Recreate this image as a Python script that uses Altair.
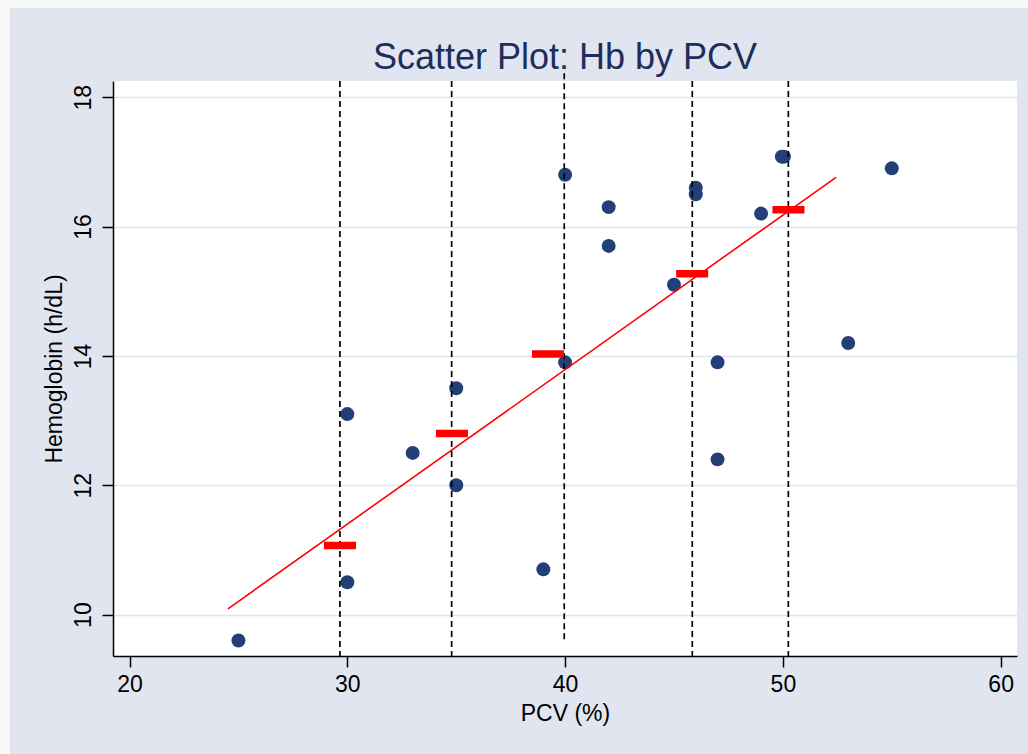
import altair as alt
import pandas as pd

# Scatter data: PCV (%) and hemoglobin
pcv = [25, 30, 30, 33, 35, 35, 39, 40, 40, 42, 42, 45, 46, 46, 47, 47, 49, 49.95, 50.05, 53, 55]
hb = [9.6, 10.5, 13.1, 12.5, 13.5, 12.0, 10.7, 13.9, 16.8, 16.3, 15.7, 15.1, 16.6, 16.5, 13.9, 12.4,
      16.2, 17.08, 17.08, 14.2, 16.9]

# Linear fit line end points
fit_pcv = [24.52, 52.44]
fit_hb = [10.09, 16.76]

# Bin means (red bars)
bar_lo = [28.93, 34.07, 38.48, 45.10, 49.52]
bar_hi = [30.40, 35.54, 39.95, 46.57, 50.99]
bar_mean = [11.07, 12.80, 14.03, 15.27, 16.26]

# Dashed cut lines
cut_pcv = [29.66, 34.79, 39.96, 45.84, 50.25]
cut_top = [18.25, 18.25, 18.37, 18.25, 18.25]
cut_bottom = [9.36, 9.36, 9.57, 9.36, 9.36]

x_ticks = [20, 30, 40, 50, 60]
y_ticks = [10, 12, 14, 16, 18]
title_text = ["Scatter Plot: Hb by PCV"]

FONT = "Liberation Sans"
xs = alt.Scale(domain=[19.24, 60.75], nice=False, zero=False)
ys = alt.Scale(domain=[9.36, 18.25], nice=False, zero=False)

pts_df = pd.DataFrame({"pcv": pcv, "hb": hb})
fit_df = pd.DataFrame({"pcv": fit_pcv, "hb": fit_hb})
bar_df = pd.DataFrame({"lo": bar_lo, "hi": bar_hi, "m": bar_mean})
cut_df = pd.DataFrame({"x": cut_pcv, "top": cut_top, "bot": cut_bottom})
title_df = pd.DataFrame({"t": title_text})
one = pd.DataFrame({"a": [0]})

PW, PH = 904, 575
PL, PT, PR, PB = 113, 81, 11, 98

strip_left = alt.Chart(one).mark_rect(color="#f7f7f8").encode(
    x=alt.value(-PL), x2=alt.value(-PL + 10), y=alt.value(-PT), y2=alt.value(PH + PB))
strip_top = alt.Chart(one).mark_rect(color="#f7f7f8").encode(
    x=alt.value(-PL), x2=alt.value(PW + PR), y=alt.value(-PT), y2=alt.value(-PT + 8))

title = alt.Chart(title_df).mark_text(
    font=FONT, fontSize=36, color="#1f2d5c", align="center", baseline="alphabetic"
).encode(text="t:N", x=alt.value(PW / 2), y=alt.value(-12))

points = alt.Chart(pts_df).mark_circle(size=195, color="#233f78", opacity=1).encode(
    x=alt.X("pcv:Q", scale=xs,
            axis=alt.Axis(values=x_ticks, title="PCV (%)", grid=False, format="d")),
    y=alt.Y("hb:Q", scale=ys,
            axis=alt.Axis(values=y_ticks, title="Hemoglobin (h/dL)", grid=True,
                          labelAngle=270, labelAlign="center", labelBaseline="bottom",
                          format="d")),
)

cuts = alt.Chart(cut_df).mark_rule(color="black", strokeWidth=1.7, strokeDash=[6, 4]).encode(
    x="x:Q", y="top:Q", y2="bot:Q")

fit = alt.Chart(fit_df).mark_line(color="#ff0000", strokeWidth=1.6).encode(
    x="pcv:Q", y="hb:Q")

bars = alt.Chart(bar_df).mark_rule(color="#ff0000", strokeWidth=7.5, strokeCap="butt").encode(
    x="lo:Q", x2="hi:Q", y="m:Q")

chart = alt.layer(strip_left, strip_top, title, points, cuts, fit, bars).properties(
    width=PW, height=PH,
    padding={"left": PL, "top": PT, "right": PR, "bottom": PB},
    autosize="none",
    background="#e0e5ef",
).configure_view(fill="white", strokeWidth=0).configure_axis(
    labelFont=FONT, labelFontSize=23, labelColor="black",
    titleFont=FONT, titleFontSize=23, titleFontWeight="normal", titleColor="black",
    domainColor="black", domainWidth=1.5, tickColor="black", tickWidth=1.5,
    tickSize=11, gridColor="#dfe4ee", gridWidth=1.5,
).configure_axisX(labelPadding=6, titlePadding=6).configure_axisY(labelPadding=7, titlePadding=6)

chart.save("out.html", embed_options={"renderer": "svg", "actions": False})
